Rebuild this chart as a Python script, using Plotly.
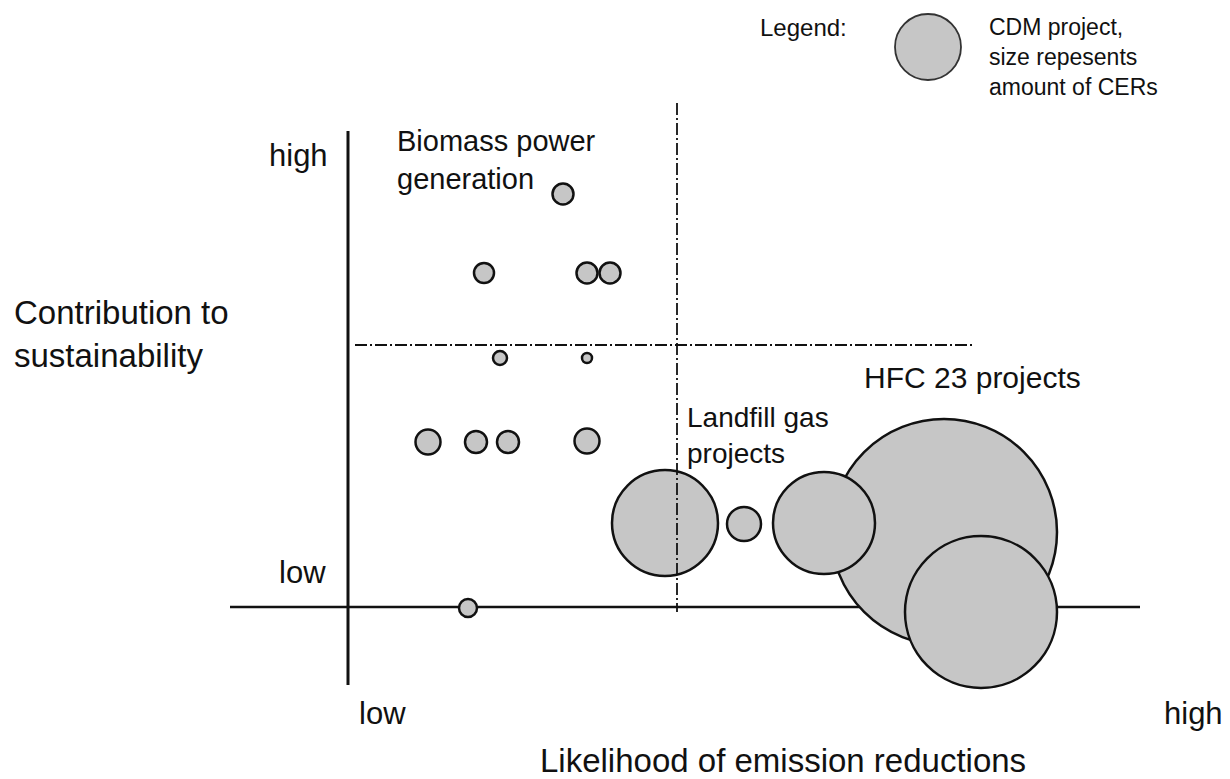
import plotly.graph_objects as go

# ---- data (conceptual units: x = likelihood of emission reductions, y = contribution to sustainability)
proj_names = ["Biomass 1", "Biomass 2", "Biomass 3", "Biomass 4", "Biomass 5", "Biomass 6",
              "Biomass 7", "Biomass 8", "Biomass 9", "Biomass 10",
              "HFC 23 a", "HFC 23 b", "Landfill a", "Landfill b", "Landfill c", "Other"]
proj_x = [2.15, 1.36, 2.39, 2.62, 1.52, 2.39, 0.80, 1.28, 1.60, 2.39,
          5.96, 6.33, 3.17, 3.96, 4.76, 1.20]
proj_y = [4.13, 3.34, 3.34, 3.34, 2.49, 2.49, 1.65, 1.65, 1.65, 1.66,
          0.75, -0.05, 0.84, 0.83, 0.84, -0.01]
proj_size = [21, 20, 21, 21, 14, 10, 25, 22, 22, 25,
             226, 152, 106, 34, 102, 18]   # bubble diameter ~ amount of CERs

legend_x = [5.80]
legend_y = [5.60]
legend_size = [66]

axis_v_x = [0, 0]
axis_v_y = [4.76, -0.78]
axis_h_x = [-1.18, 7.92]
axis_h_y = [0, 0]
split_v_x = [3.29, 3.29]
split_v_y = [5.04, -0.05]
split_h_x = [0.07, 6.27]
split_h_y = [2.62, 2.62]

FILL = "#c6c6c6"
INK = "#111111"
FONT = "Liberation Sans, Arial, sans-serif"

fig = go.Figure()

# axes (below the bubbles)
fig.add_trace(go.Scatter(x=axis_v_x, y=axis_v_y, mode="lines",
                         line=dict(color=INK, width=3), hoverinfo="skip"))
fig.add_trace(go.Scatter(x=axis_h_x, y=axis_h_y, mode="lines",
                         line=dict(color=INK, width=2.5), hoverinfo="skip"))

# project bubbles
fig.add_trace(go.Scatter(x=proj_x, y=proj_y, mode="markers", text=proj_names,
                         marker=dict(size=proj_size, sizemode="diameter", color=FILL,
                                     opacity=1, line=dict(color=INK, width=2.5)),
                         hoverinfo="text"))

# legend bubble
fig.add_trace(go.Scatter(x=legend_x, y=legend_y, mode="markers",
                         marker=dict(size=legend_size, color=FILL, opacity=1,
                                     line=dict(color="#333333", width=1.8)),
                         hoverinfo="skip"))

# dash-dot separators (above bubbles)
fig.add_trace(go.Scatter(x=split_v_x, y=split_v_y, mode="lines",
                         line=dict(color=INK, width=1.8, dash="12px,3px,2px,3px"),
                         hoverinfo="skip"))
fig.add_trace(go.Scatter(x=split_h_x, y=split_h_y, mode="lines",
                         line=dict(color=INK, width=1.8, dash="12px,3px,2px,3px"),
                         hoverinfo="skip"))

def txt(x, y, s, size, xanchor="left", yanchor="middle", align="left"):
    fig.add_annotation(x=x, y=y, xref="x", yref="y", text=s, showarrow=False,
                       xanchor=xanchor, yanchor=yanchor, align=align,
                       font=dict(family=FONT, size=size, color=INK))

txt(4.10, 5.80, "Legend:", 24)
txt(6.39, 5.50, "CDM project,<br>size repesents<br>amount of CERs", 23)
txt(0.47, 4.47, "Biomass power<br>generation", 29)
txt(3.37, 1.72, "Landfill gas<br>projects", 28)
txt(5.14, 2.30, "HFC 23 projects", 30)
txt(-3.36, 2.735, "Contribution to<br>sustainability", 33)
txt(-0.18, 4.52, "high", 31, xanchor="right")
txt(-0.20, 0.35, "low", 31, xanchor="right")
txt(0.09, -1.06, "low", 31)
txt(8.77, -1.06, "high", 31, xanchor="right")
txt(4.35, -1.53, "Likelihood of emission reductions", 33, xanchor="center", align="center")

# the page adds an 8px body margin, so the figure occupies page pixels 8..1230 / 8..779
fig.update_layout(
    width=1222, height=771, autosize=False,
    margin=dict(l=0, r=0, t=0, b=0),
    paper_bgcolor="white", plot_bgcolor="white",
    showlegend=False,
    xaxis=dict(range=[-3.40, 8.82], visible=False, fixedrange=True),
    yaxis=dict(range=[-1.72, 5.99], visible=False, fixedrange=True),
)

fig.write_html("out.html")
